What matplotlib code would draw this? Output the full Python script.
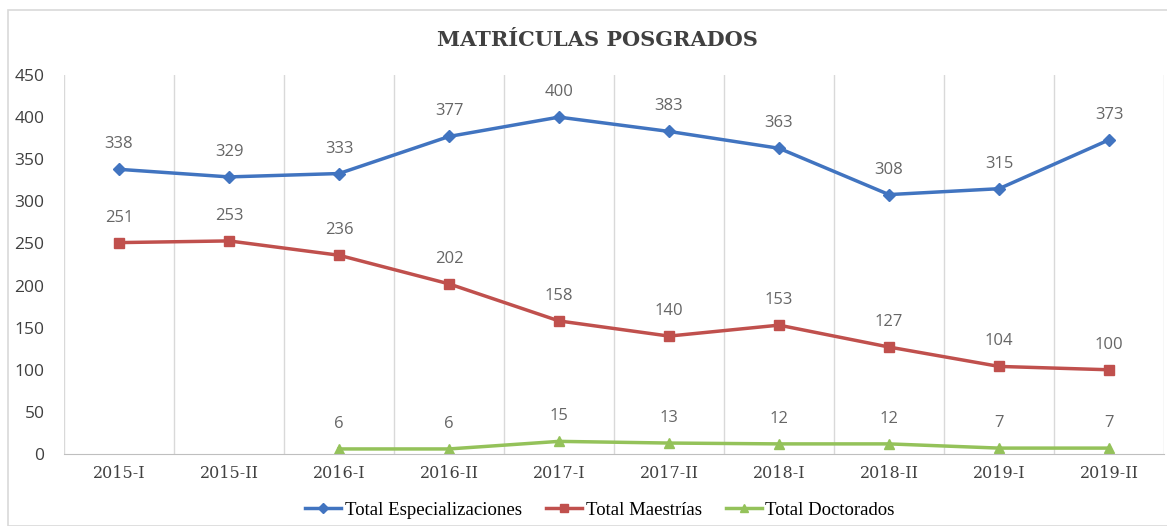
import matplotlib.pyplot as plt
from matplotlib.patches import Rectangle
import numpy as np

periodos = ['2015-I', '2015-II', '2016-I', '2016-II', '2017-I',
            '2017-II', '2018-I', '2018-II', '2019-I', '2019-II']
especializaciones = [338, 329, 333, 377, 400, 383, 363, 308, 315, 373]
maestrias = [251, 253, 236, 202, 158, 140, 153, 127, 104, 100]
doctorados = [None, None, 6, 6, 15, 13, 12, 12, 7, 7]

series = [
    ('Total Especializaciones', especializaciones, '#4174C0', 'D', 6.5),
    ('Total Maestrías', maestrias, '#C0504D', 's', 6.5),
    ('Total Doctorados', doctorados, '#94C25A', '^', 7.5),
]

fig = plt.figure(figsize=(11.67, 5.26), dpi=100)
ax = fig.add_axes([64 / 1167, 1 - 454 / 526, 1100 / 1167, 379 / 526])

# marco exterior del grafico
fig.patches.append(Rectangle((8 / 1167, 0), 1.0, 1 - 10 / 526, transform=fig.transFigure,
                             fill=False, edgecolor='#d9d9d9', linewidth=1.2))

x = np.arange(len(periodos))
for nombre, vals, color, marker, ms in series:
    xs = [xi for xi, v in zip(x, vals) if v is not None]
    ys = [v for v in vals if v is not None]
    ax.plot(xs, ys, color=color, linewidth=2.5, marker=marker, markersize=ms, label=nombre)
    for xi, v in zip(xs, ys):
        ax.annotate(str(v), (xi, v), xytext=(0, 18), textcoords='offset points',
                    ha='center', va='center', fontsize=12, color='#666666',
                    family='Open Sans')

ax.set_xlim(-0.5, len(periodos) - 0.5)
ax.set_ylim(0, 450)
ax.set_yticks(range(0, 451, 50))
ax.set_xticks(x)
ax.set_xticklabels(periodos, family='DejaVu Serif', fontsize=11.5, color='#404040')
ax.tick_params(axis='y', labelsize=12.5, colors='#404040', length=0, pad=14)
ax.tick_params(axis='x', length=0, pad=8)
for lbl in ax.get_yticklabels():
    lbl.set_family('Open Sans')

ax.set_xticks(np.arange(-0.5, len(periodos), 1), minor=True)
ax.tick_params(axis='x', which='minor', length=0)
ax.grid(axis='x', which='minor', color='#d9d9d9', linewidth=1)
for s in ['top', 'right', 'left']:
    ax.spines[s].set_visible(False)
ax.spines['bottom'].set_color('#bfbfbf')

fig.text(597 / 1167, 1 - 40 / 526, 'MATRÍCULAS POSGRADOS', ha='center', va='center',
         fontsize=15, fontweight='bold', color='#404040', family='DejaVu Serif')

fig.legend(loc='center', bbox_to_anchor=(600 / 1167, 1 - 510 / 526), ncol=3, frameon=False,
           prop={'family': 'Liberation Serif', 'size': 13.5}, handlelength=1.9,
           handletextpad=0.2, columnspacing=1.3, markerscale=0.8)

fig.savefig('out.png', dpi=100)
